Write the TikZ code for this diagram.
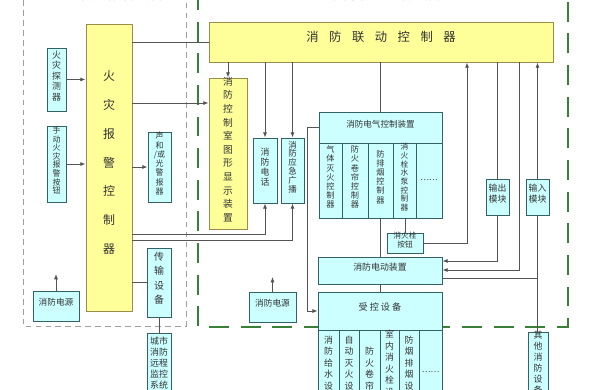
\documentclass[tikz,border=0pt]{standalone}
\usepackage{fontspec}
\setmainfont{Noto Sans CJK SC}
\usetikzlibrary{arrows.meta,fit,calc}
\definecolor{YlwFill}{rgb}{1,1,0.6}
\definecolor{YlwLine}{rgb}{0.6,0.55,0.3}
\definecolor{CynFill}{rgb}{0.8,1,1}
\definecolor{CynLine}{rgb}{0.2,0.38,0.4}
\definecolor{WireClr}{rgb}{0.33,0.33,0.33}
\definecolor{TxtClr}{rgb}{0.2,0.2,0.2}
\definecolor{GrnDash}{rgb}{0.22,0.5,0.22}
\definecolor{GryDash}{rgb}{0.62,0.62,0.62}
\newcommand{\fsz}[2]{\fontsize{#1}{#2}\selectfont}

\begin{document}
\begin{tikzpicture}[x=0.03cm,y=-0.03cm,
  ylwbox/.style={draw=YlwLine,fill=YlwFill,line width=0.8pt,inner sep=0pt,align=center,text=TxtClr},
  cynbox/.style={draw=CynLine,fill=CynFill,line width=0.7pt,inner sep=0pt,align=center,text=TxtClr},
  wire/.style={draw=WireClr,line width=0.75pt},
  arr/.style={wire,-{Latex[length=4.5pt,width=3.5pt]}},
  grnframe/.style={draw=GrnDash,line width=1.1pt,dash pattern=on 17pt off 10pt},
  gryframe/.style={draw=GryDash,line width=0.8pt,dash pattern=on 5pt off 3.5pt}]
\useasboundingbox (0,0) rectangle (590,389);

% frames and titles
\draw[gryframe] (23,-10) rectangle (186,326);
\draw[grnframe] (198,-10) rectangle (568,327);
\node[anchor=base,text=TxtClr,font=\fsz{12}{14}] (ttlL) at (108,-0.5) {火灾自动报警设备};
\node[anchor=base,text=TxtClr,font=\fsz{12}{14}] (ttlR) at (385,-0.5) {消防联动控制设备};

% alarm side
\node[ylwbox,fit={(86,24)(132,311)},font=\fsz{10.2}{24.7}] (fac) {火\\灾\\报\\警\\控\\制\\器};
\node[cynbox,fit={(47,48)(66,111)},font=\fsz{7.6}{8.9}] (det) {火\\灾\\探\\测\\器};
\node[cynbox,fit={(47,126)(66,202)},font=\fsz{6.8}{7.3}] (mcp) {手\\动\\火\\灾\\报\\警\\按\\钮};
\node[cynbox,fit={(148,132)(171,202)},font=\fsz{6.8}{7.9}] (alm) {声\\和\\/或\\光\\警\\报\\器};
\node[cynbox,fit={(147,248)(171,317)},font=\fsz{8.5}{12.3}] (trans) {传\\输\\设\\备};
\node[cynbox,fit={(147,333)(171,401)},font=\fsz{7.6}{9.35}] (remote) {城市\\消防\\远程\\监控\\系统};
\node[cynbox,fit={(33,291)(79,321)},font=\fsz{7.4}{9}] (pwrL) {消防电源};
\coordinate (pwrLtop) at (pwrL.north |- 0,274);

% linkage side
\node[ylwbox,fit={(209,22)(553,62)},font=\fsz{10.5}{12}] (lnk) {消\hspace{9pt}防\hspace{9pt}联\hspace{9pt}动\hspace{9pt}控\hspace{9pt}制\hspace{9pt}器};
\node[ylwbox,fit={(209,78)(247,229)},font=\fsz{8.3}{11.6}] (gfx) {消\\防\\控\\制\\室\\图\\形\\显\\示\\装\\置};
\node[cynbox,fit={(253,138)(277,203)},font=\fsz{7.6}{8.5}] (tel) {消\\防\\电\\话};
\node[cynbox,fit={(281,138)(304,203)},font=\fsz{7.2}{7.5}] (bcast) {消\\防\\应\\急\\广\\播};

\node[cynbox,fit={(319,112)(442,218)}] (elec) {};
\node[cynbox,fit={(319,112)(442,143)},font=\fsz{7.3}{9}] (elecH) {消防电气控制装置};
\node[cynbox,fit={(319,143)(342,218)},font=\fsz{7}{7.8}] (c1) {气\\体\\灭\\火\\控\\制\\器};
\node[cynbox,fit={(342,143)(368,218)},font=\fsz{7}{7.8}] (c2) {防\\火\\卷\\帘\\控\\制\\器};
\node[cynbox,fit={(368,143)(393,218)},font=\fsz{7}{7.8}] (c3) {防\\排\\烟\\控\\制\\器};
\node[cynbox,fit={(393,143)(416,218)},font=\fsz{6.6}{7.4}] (c4) {消\\火\\栓\\水\\泵\\控\\制\\器};
\node[cynbox,fit={(416,143)(442,218)},font=\fsz{7}{7.8}] (c5) {……};

\node[cynbox,fit={(387,233)(423,253)},font=\fsz{6.6}{8}] (hyd) {消火栓\\按钮};
\node[cynbox,fit={(486,179)(509,215)},font=\fsz{7.6}{9.35}] (outm) {输出\\模块};
\node[cynbox,fit={(526,179)(549,215)},font=\fsz{7.6}{9.35}] (inm) {输入\\模块};
\node[cynbox,fit={(318,257)(442,284)},font=\fsz{7.6}{9}] (motor) {消防电动装置};
\node[cynbox,fit={(318,292)(442,330)},font=\fsz{7.8}{9}] (ctrl) {受\hspace{1.7pt}控\hspace{1.7pt}设\hspace{1.7pt}备};
\node[cynbox,fit={(318,330)(339,415)},font=\fsz{7.6}{9.8}] (d1) {消\\防\\给\\水\\设\\备};
\node[cynbox,fit={(339,330)(359,415)},font=\fsz{7.6}{9.8}] (d2) {自\\动\\灭\\火\\设\\备};
\node[cynbox,fit={(359,330)(380,415)},font=\fsz{7.6}{9.8}] (d3) {防\\火\\卷\\帘};
\node[cynbox,fit={(380,330)(399,415)},font=\fsz{7.6}{9.8}] (d4) {室\\内\\消\\火\\栓\\设\\备};
\node[cynbox,fit={(399,330)(419,415)},font=\fsz{7.6}{9.8}] (d5) {防\\烟\\排\\烟\\设\\备};
\node[cynbox,fit={(419,330)(442,415)},font=\fsz{7}{9}] (d6) {……};
\node[cynbox,fit={(528,332)(548,400)},font=\fsz{7.6}{9.35}] (other) {其\\他\\消\\防\\设\\备};
\node[cynbox,fit={(249,292)(296,322)},font=\fsz{7.4}{9}] (pwrR) {消防电源};
\coordinate (pwrRtop) at (pwrR.north |- 0,277);

% connectors, alarm side
\draw[arr] (det) -- (det -| fac.west);
\draw[arr] (mcp) -- (mcp -| fac.west);
\draw[arr] (alm -| fac.east) -- (alm.west);
\draw[wire] (trans -| fac.east) -- (trans.west);
\draw[wire] (trans.south) -- (remote.north);
\draw[arr] (pwrL.north) -- (pwrLtop);

% connectors, controller to linkage
\draw[wire] (fac.east |- lnk.west) -- (lnk.west);
\draw[arr] (fac.east |- 0,103) -- (gfx.west |- 0,103);
\draw[arr] (fac.east |- 0,234) -| (tel.south);
\draw[arr] (fac.east |- 0,240) -| (bcast.south);

% connectors, linkage side
\draw[arr] (gfx.north |- lnk.south) -- (gfx.north);
\draw[arr] (tel.north |- lnk.south) -- (tel.north);
\draw[arr] (bcast.north |- lnk.south) -- (bcast.north);
\draw[wire] (elec.north |- lnk.south) -- (elec.north);
\draw[arr] (elecH.west) -- ++(-11,0) |- (ctrl.west);
\draw[wire] (hyd.north |- c4.south) -- (hyd.north);
\draw[arr] (hyd.east) -| (lnk.south -| 467,0);
\draw[wire] (outm.north |- lnk.south) -- (outm.north);
\draw[arr] (outm.south) |- (motor.east |- 0,261);
\draw[arr] (lnk.south -| 519,0) |- (motor.east |- 0,270);
\draw[arr] (inm.north) -- (inm.north |- lnk.south);
\draw[wire] (inm.south |- other.north) -- (inm.south);
\draw[wire] (motor.east |- 0,278) -- (inm.south |- 0,278);
\draw[wire] (motor.north |- elec.south) -- (motor.north);
\draw[wire] (motor.south) -- (ctrl.north);
\draw[arr] (pwrR.north) -- (pwrRtop);

\end{tikzpicture}
\end{document}
